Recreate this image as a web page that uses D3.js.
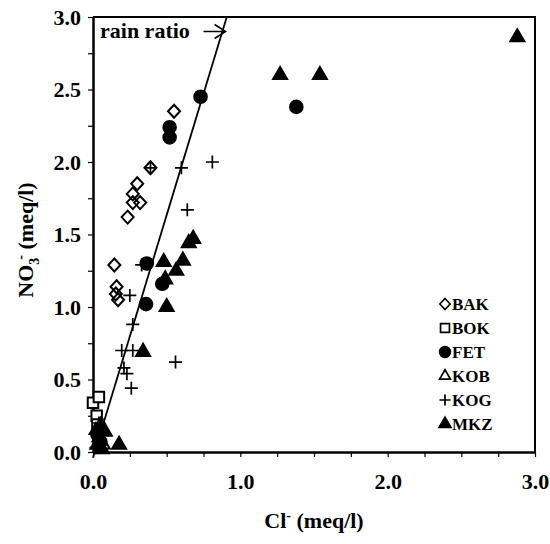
<!DOCTYPE html>
<html>
<head>
<meta charset="utf-8">
<script src="https://cdn.jsdelivr.net/npm/d3@7"></script>
<style>
  body { margin: 0; background: #fff; }
  svg { font-family: "Liberation Serif", serif; font-weight: bold; }
</style>
</head>
<body>
<svg id="chart"></svg>
<script>
// series: [Cl-, NO3-] in meq/l
var BAK = [[0.55,2.35],[0.39,1.96],[0.30,1.85],[0.27,1.78],[0.27,1.72],[0.32,1.72],[0.235,1.62],
           [0.145,1.29],[0.16,1.14],[0.155,1.09],[0.17,1.05]];
var BOK = [[0.00,0.34],[0.04,0.38],[0.025,0.25],[0.03,0.19]];
var FET = [[0.73,2.45],[0.52,2.24],[0.52,2.17],[1.38,2.38],[0.365,1.30],[0.47,1.16],[0.36,1.02],
           [0.03,0.12],[0.05,0.07]];
var KOB = [[0.04,0.10],[0.07,0.05],[0.02,0.15]];
var KOG = [[0.60,1.96],[0.81,2.00],[0.64,1.67],[0.33,1.29],[0.25,1.08],[0.27,0.88],[0.195,0.70],
           [0.27,0.70],[0.21,0.58],[0.23,0.54],[0.56,0.62],[0.26,0.44],[0.39,1.96],
           [0.02,0.03],[0.06,0.12],[0.04,0.20]];
var MKZ = [[2.88,2.86],[1.27,2.60],[1.54,2.60],[0.68,1.47],[0.65,1.44],[0.48,1.31],[0.61,1.32],
           [0.565,1.25],[0.49,1.19],[0.50,1.00],[0.34,0.69],[0.177,0.05],[0.05,0.18],[0.08,0.14],
           [0.03,0.05],[0.06,0.02]];

var seriesNames = ["BAK", "BOK", "FET", "KOB", "KOG", "MKZ"];
var seriesData = [BAK, BOK, FET, KOB, KOG, MKZ];

// rain ratio line end points
var rainX = [0.0, 0.908];
var rainY = [-0.04, 3.0];

var xTicks = d3.range(0, 3.01, 0.25);
var yTicks = d3.range(0, 3.01, 0.25);

var W = 550, H = 544;
var margin = {top: 17, right: 15, bottom: 92, left: 93},
    w = W - margin.left - margin.right,
    h = H - margin.top - margin.bottom;

var svg = d3.select("#chart").attr("width", W).attr("height", H);
var g = svg.append("g").attr("transform", `translate(${margin.left}, ${margin.top})`);

var x = d3.scaleLinear().domain([0, 3]).range([0, w]);
var y = d3.scaleLinear().domain([0, 3]).range([h, 0]);

// frame (top & right)
g.append("path")
    .attr("d", `M0,0H${w}V${h}`)
    .attr("fill", "none").attr("stroke", "#000").attr("stroke-width", 2);

// x axis
var xa = g.append("g").attr("transform", `translate(0, ${h})`)
    .call(d3.axisBottom(x).tickValues(xTicks).tickSize(5).tickSizeOuter(0)
        .tickFormat(d => Math.abs(d - Math.round(d)) < 1e-6 ? d3.format(".1f")(d) : ""));
xa.select(".domain").attr("stroke-width", 2.5);
xa.selectAll(".tick line").attr("stroke-width", 1.2);
xa.selectAll(".tick text").attr("dy", "1.3em").style("font-size", "22px").style("font-family", "Liberation Serif").style("font-weight", "bold");

// y axis
var ya = g.append("g")
    .call(d3.axisLeft(y).tickValues(yTicks).tickSize(5).tickSizeOuter(0)
        .tickFormat(d => Math.abs(d * 2 - Math.round(d * 2)) < 1e-6 ? d3.format(".1f")(d) : ""));
ya.select(".domain").attr("stroke-width", 2.5);
ya.selectAll(".tick line").attr("stroke-width", 1.2);
ya.selectAll(".tick text").attr("x", -12).style("font-size", "22px").style("font-family", "Liberation Serif").style("font-weight", "bold");

// rain ratio line
g.append("line")
    .attr("x1", x(rainX[0])).attr("y1", y(rainY[0]))
    .attr("x2", x(rainX[1])).attr("y2", y(rainY[1]))
    .attr("stroke", "#000").attr("stroke-width", 1.8);

// label + arrow
var arrowY = y(2.9);
g.append("text")
    .attr("x", 7).attr("y", arrowY + 6)
    .style("font-size", "22px")
    .text("rain ratio");
g.append("path")
    .attr("d", `M${x(0.75)},${arrowY}H${x(0.90)}M${x(0.90) - 11},${arrowY - 7}L${x(0.90)},${arrowY}L${x(0.90) - 11},${arrowY + 7}`)
    .attr("fill", "none").attr("stroke", "#000").attr("stroke-width", 1.5);

// symbols
var sym = {
    BAK: {d: "M0,-6.5L6,0L0,6.5L-6,0Z", fill: "none"},
    BOK: {d: d3.symbol(d3.symbolSquare, 110)(), fill: "#fff"},
    FET: {d: d3.symbol(d3.symbolCircle, 125)(), fill: "#000"},
    KOB: {d: d3.symbol(d3.symbolTriangle, 70)(), fill: "none"},
    KOG: {d: "M-6.5,0H6.5M0,-6.5V6.5", fill: "none"},
    MKZ: {d: d3.symbol(d3.symbolTriangle, 85)(), fill: "#000"}
};

seriesNames.forEach(function(name, i) {
    g.selectAll(".pt-" + name)
        .data(seriesData[i])
        .enter().append("path")
        .attr("class", "pt-" + name)
        .attr("transform", d => `translate(${x(d[0])}, ${y(d[1])})`)
        .attr("d", sym[name].d)
        .attr("fill", sym[name].fill)
        .attr("stroke", "#000")
        .attr("stroke-width", name == "KOG" ? 1.7 : 2);
});

// legend
var legend = g.append("g").attr("transform", `translate(${445 - margin.left}, ${304 - margin.top})`);
seriesNames.forEach(function(name, i) {
    var row = legend.append("g").attr("transform", `translate(0, ${i * 24})`);
    row.append("path")
        .attr("d", sym[name].d)
        .attr("transform", "scale(0.85)")
        .attr("fill", sym[name].fill)
        .attr("stroke", "#000").attr("stroke-width", 2);
    row.append("text")
        .attr("x", 7).attr("y", 6)
        .style("font-size", "17px")
        .text(name);
});

// axis titles
var xt = svg.append("text")
    .attr("x", 314).attr("y", 528)
    .attr("text-anchor", "middle")
    .style("font-size", "22px");
xt.append("tspan").text("Cl");
xt.append("tspan").attr("dy", -8).style("font-size", "14px").text("-");
xt.append("tspan").attr("dy", 8).text(" (meq/l)");

var yt = svg.append("text")
    .attr("transform", "translate(33, 240) rotate(-90)")
    .attr("text-anchor", "middle")
    .style("font-size", "22px");
yt.append("tspan").text("NO");
yt.append("tspan").attr("dy", 6).style("font-size", "14px").text("3");
yt.append("tspan").attr("dy", -14).attr("dx", -2).style("font-size", "14px").text("-");
yt.append("tspan").attr("dy", 8).text(" (meq/l)");
</script>
</body>
</html>
